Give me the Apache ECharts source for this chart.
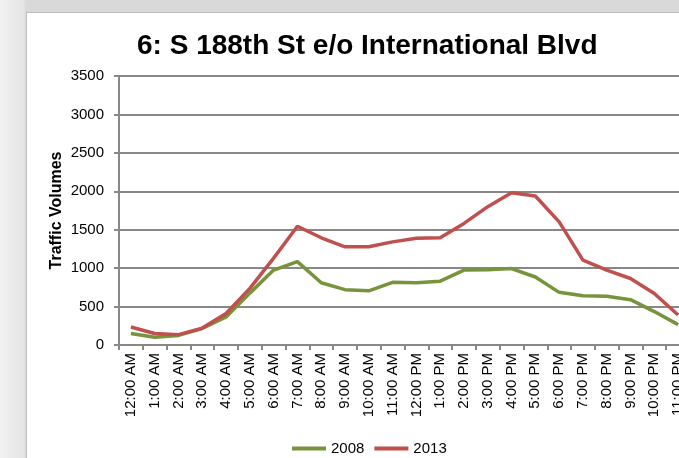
<!DOCTYPE html>
<html>
<head>
<meta charset="utf-8">
<script src="https://cdn.jsdelivr.net/npm/echarts@6/dist/echarts.min.js"></script>
<style>
  html, body { margin: 0; padding: 0; }
  body {
    width: 679px; height: 458px; overflow: hidden; position: relative;
    background: linear-gradient(to right, #f2f2f2 0px, #e4e4e4 24px, #d9d9d9 26px);
  }
  #frame {
    position: absolute; left: 26px; top: 12px; right: 0; bottom: 0;
    background: #ffffff;
    border-left: 1px solid #bdbdbd; border-top: 1px solid #bdbdbd;
  }
  #main { position: absolute; left: 0; top: 0; width: 679px; height: 458px; }
</style>
</head>
<body>
<div id="frame"></div>
<div id="main"></div>
<script>
// hourly counts
const hours = [
  "12:00 AM", "1:00 AM", "2:00 AM", "3:00 AM", "4:00 AM", "5:00 AM",
  "6:00 AM", "7:00 AM", "8:00 AM", "9:00 AM", "10:00 AM", "11:00 AM",
  "12:00 PM", "1:00 PM", "2:00 PM", "3:00 PM", "4:00 PM", "5:00 PM",
  "6:00 PM", "7:00 PM", "8:00 PM", "9:00 PM", "10:00 PM", "11:00 PM"
];
const vol2008 = [
  150, 100, 125, 215, 365, 675, 975, 1085, 810, 720, 705, 815,
  810, 830, 975, 980, 995, 885, 685, 640, 635, 590, 435, 265
];
const vol2013 = [
  235, 150, 135, 220, 410, 737, 1130, 1545, 1395, 1278, 1278, 1342,
  1388, 1395, 1582, 1800, 1982, 1938, 1602, 1105, 975, 865, 670, 390
];
const yTicks = { min: 0, max: 3500, step: 500 };

const gridGray = "#888888";
const font = "Liberation Sans, Arial, sans-serif";

const lineSeries = (name, data, color) => ({
  name: name,
  type: "line",
  data: data,
  showSymbol: false,
  symbol: "none",
  smooth: false,
  lineStyle: { color: color, width: 3.5 },
  itemStyle: { color: color },
});

const option = {
  animation: false,
  backgroundColor: "transparent",
  textStyle: { fontFamily: font },
  title: {
    text: "6: S 188th St e/o International Blvd",
    left: 132,
    top: 27,
    textStyle: { fontFamily: font, fontSize: 28, fontWeight: "bold", color: "#000" },
  },
  legend: {
    left: 287,
    top: 436,
    itemWidth: 34,
    itemHeight: 4,
    itemGap: 10,
    icon: "rect",
    textStyle: { fontFamily: font, fontSize: 15, color: "#000" },
    data: ["2008", "2013"],
  },
  grid: {
    left: 119,
    top: 76,
    width: 571,
    height: 269,
    outerBoundsMode: "none",
    containLabel: false,
  },
  xAxis: {
    type: "category",
    data: hours,
    boundaryGap: true,
    axisLine: { lineStyle: { color: gridGray, width: 2 } },
    axisTick: { show: true, length: 5, lineStyle: { color: gridGray, width: 2 } },
    axisLabel: {
      rotate: 90,
      interval: 0,
      margin: 8,
      fontFamily: font,
      fontSize: 15,
      color: "#000",
    },
  },
  yAxis: {
    type: "value",
    min: yTicks.min,
    max: yTicks.max,
    interval: yTicks.step,
    name: "Traffic Volumes",
    nameLocation: "middle",
    nameGap: 54,
    nameMoveOverlap: false,
    nameTextStyle: { fontFamily: font, fontSize: 16, fontWeight: "bold", color: "#000" },
    axisLine: { show: true, lineStyle: { color: gridGray, width: 2 } },
    axisTick: { show: true, length: 5, lineStyle: { color: gridGray, width: 2 } },
    axisLabel: {
      margin: 15,
      fontFamily: font,
      fontSize: 15,
      color: "#000",
      formatter: (v) => String(v),
    },
    splitLine: { show: true, lineStyle: { color: gridGray, width: 2 } },
  },
  series: [
    lineSeries("2008", vol2008, "#77933C"),
    lineSeries("2013", vol2013, "#C0504D"),
  ],
};

const chart = echarts.init(document.getElementById("main"), null, { renderer: "canvas" });
chart.setOption(option);
</script>
</body>
</html>
